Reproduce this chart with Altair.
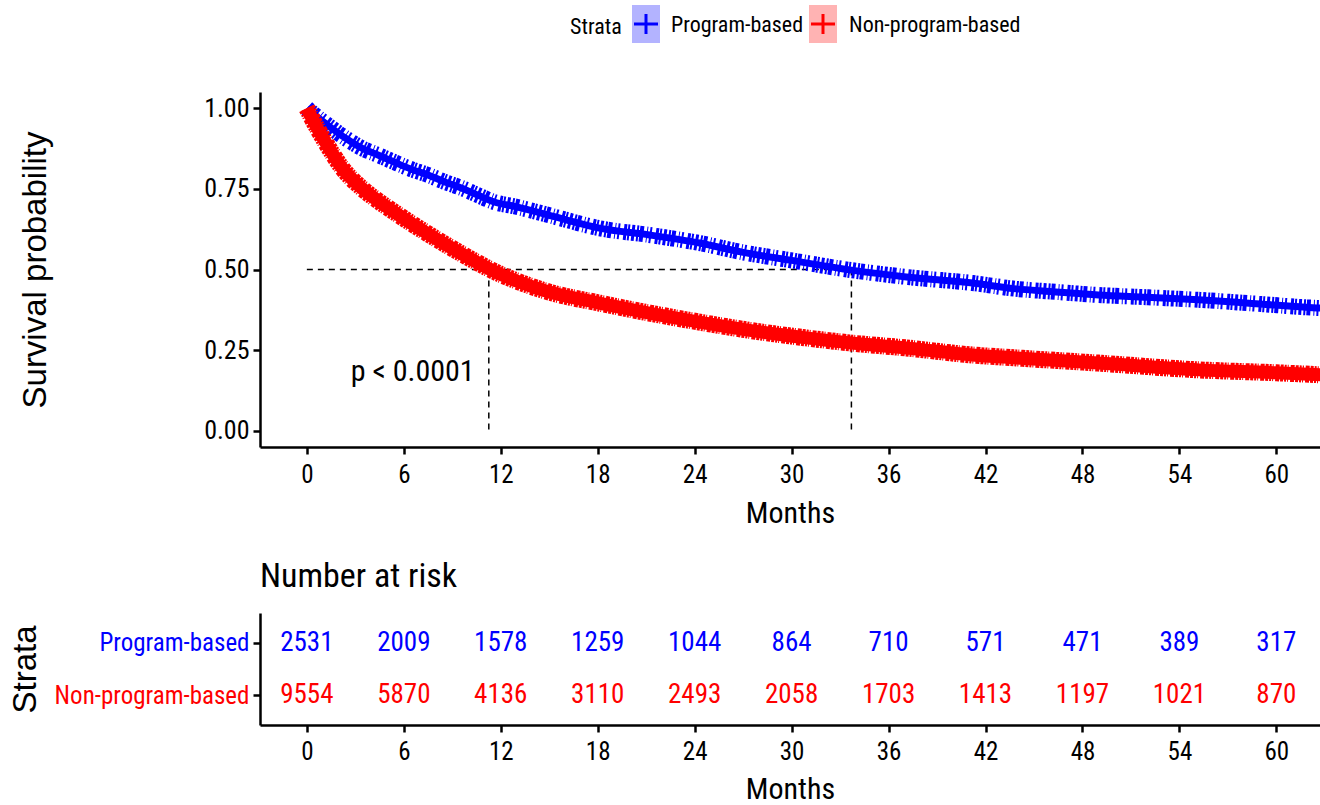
import altair as alt
import pandas as pd

# ---------------- data ----------------
strata = ["Program-based", "Non-program-based"]
colors = ["#0000FF", "#FF0000"]
light = ["#B3B3FF", "#FFB3B3"]

blue_t = [0, 0.7, 1.3, 2.3, 3.4, 4.4, 5.4, 6.5, 7.5, 8.5, 9.6, 10.6, 11.6, 12.9, 14.5,
          16.1, 18.1, 21.2, 24.3, 27.0, 29.9, 33.7, 37.1, 41.2, 43.9, 46.0, 49.0, 52.0,
          55.2, 58.5, 62.5, 63.0]
blue_s = [1.0, 0.97, 0.947, 0.91, 0.876, 0.855, 0.833, 0.81, 0.793, 0.772, 0.752, 0.73,
          0.709, 0.695, 0.675, 0.653, 0.628, 0.607, 0.582, 0.553, 0.529, 0.498, 0.477,
          0.458, 0.44, 0.432, 0.421, 0.414, 0.406, 0.395, 0.381, 0.38]

red_t = [0, 0.3, 0.68, 1.3, 2.16, 3.4, 4.4, 5.44, 6.5, 7.48, 8.5, 9.6, 10.6, 11.6, 12.9,
         15.0, 18.1, 21.2, 24.3, 27.2, 30.9, 33.7, 37.1, 41.2, 43.9, 49.0, 55.2, 60.0, 63.0]
red_s = [1.0, 0.97, 0.935, 0.882, 0.816, 0.752, 0.713, 0.677, 0.642, 0.611, 0.58, 0.548,
         0.52, 0.494, 0.466, 0.43, 0.396, 0.365, 0.337, 0.313, 0.288, 0.272, 0.257, 0.235,
         0.226, 0.21, 0.189, 0.18, 0.173]

median_t = [11.26, 33.7]
median_level = 0.5

risk_times = [0, 6, 12, 18, 24, 30, 36, 42, 48, 54, 60]
risk_program = [2531, 2009, 1578, 1259, 1044, 864, 710, 571, 471, 389, 317]
risk_nonprog = [9554, 5870, 4136, 3110, 2493, 2058, 1703, 1413, 1197, 1021, 870]

p_label = "p < 0.0001"
p_t, p_s = 6.55, 0.183

x_ticks = [0, 6, 12, 18, 24, 30, 36, 42, 48, 54, 60]
y_ticks = [0, 0.25, 0.5, 0.75, 1.0]

# ---------------- style ----------------
NARROW = "Liberation Sans Narrow, Arial Narrow, Roboto Condensed, sans-serif"
REG = "Liberation Sans, Arial, sans-serif"
W = 1060
H_MAIN = 355
H_TAB = 112

xscale = alt.Scale(domain=[-2.9, 62.7], nice=False, zero=False)
yscale = alt.Scale(domain=[-0.05, 1.05], nice=False, zero=False)

common_axis = dict(domainColor="black", domainWidth=2.5, tickColor="black", tickWidth=2.5,
                   tickSize=7, labelFont=NARROW, grid=False,
                   titleColor="black", titleFontWeight="normal")

xaxis_main = alt.Axis(values=x_ticks, title="Months", labelFontSize=25, labelPadding=8,
                      labelColor="black", titleFont=NARROW, titleFontSize=30, titlePadding=11,
                      **common_axis)
yaxis_main = alt.Axis(values=y_ticks, format=".2f", title="Survival probability",
                      labelFontSize=26, labelPadding=4, labelColor="black",
                      titleFont=REG, titleFontSize=33,
                      titleX=-225, titleY=H_MAIN / 2, titleAlign="center",
                      titleBaseline="middle", titleAngle=-90, **common_axis)

X = alt.X("t:Q", scale=xscale, axis=xaxis_main)
Y = alt.Y("s:Q", scale=yscale, axis=yaxis_main)

blue_df = pd.DataFrame({"t": blue_t, "s": blue_s})
red_df = pd.DataFrame({"t": red_t, "s": red_s})

dash_blue = [3, 2, 2, 1, 4, 3, 1, 2, 2, 4, 3, 1, 2, 2]
dash_red = [3, 1, 2, 1, 1, 2, 4, 1]

blue_core = alt.Chart(blue_df).mark_line(color=colors[0], strokeWidth=7,
                                         interpolate="monotone", clip=True).encode(x=X, y=Y)
blue_ticks = alt.Chart(blue_df).mark_line(color=colors[0], strokeWidth=16, strokeDash=dash_blue,
                                          interpolate="monotone", clip=True).encode(x=X, y=Y)
red_core = alt.Chart(red_df).mark_line(color=colors[1], strokeWidth=13,
                                       interpolate="monotone", clip=True).encode(x=X, y=Y)
red_ticks = alt.Chart(red_df).mark_line(color=colors[1], strokeWidth=17, strokeDash=dash_red,
                                        interpolate="monotone", clip=True).encode(x=X, y=Y)

hline_df = pd.DataFrame({"t": [0], "t2": [max(median_t)], "s": [median_level]})
hline = alt.Chart(hline_df).mark_rule(color="black", strokeWidth=1.5, strokeDash=[6, 5]).encode(
    x=X, x2="t2:Q", y=Y)
vline_df = pd.DataFrame({"t": median_t, "s": [median_level] * 2, "s2": [0.0] * 2})
vline = alt.Chart(vline_df).mark_rule(color="black", strokeWidth=1.5, strokeDash=[6, 5]).encode(
    x=X, y=Y, y2="s2:Q")

p_df = pd.DataFrame({"t": [p_t], "s": [p_s], "label": [p_label]})
ptext = alt.Chart(p_df).mark_text(font=NARROW, fontSize=30, color="black", align="center",
                                  baseline="middle").encode(x=X, y=Y, text="label:N")

# ---- manual legend at top ----
one = pd.DataFrame({"k": [0]})
leg = [alt.Chart(one).mark_text(font=NARROW, fontSize=22, color="black", align="left",
                                baseline="middle").encode(
    x=alt.value(310), y=alt.value(-65), text=alt.value("Strata"))]
for name, c, lc, x0, tx in zip(strata, colors, light, [372, 549], [411, 589]):
    leg.append(alt.Chart(one).mark_rect(color=lc).encode(
        x=alt.value(x0), x2=alt.value(x0 + 28), y=alt.value(-87), y2=alt.value(-49)))
    leg.append(alt.Chart(one).mark_rule(color=c, strokeWidth=3).encode(
        x=alt.value(x0 + 2), x2=alt.value(x0 + 26), y=alt.value(-68)))
    leg.append(alt.Chart(one).mark_rule(color=c, strokeWidth=3).encode(
        x=alt.value(x0 + 14), y=alt.value(-78), y2=alt.value(-58)))
    leg.append(alt.Chart(one).mark_text(font=NARROW, fontSize=22, color="black", align="left",
                                        baseline="middle").encode(
        x=alt.value(tx), y=alt.value(-67), text=alt.value(name)))

# invisible anchor fixing the top-left corner of the page
anchor = alt.Chart(one).mark_rule(strokeOpacity=0, strokeWidth=1).encode(
    x=alt.value(-260), x2=alt.value(-258), y=alt.value(-92))

main = alt.layer(anchor, hline, vline, blue_ticks, blue_core, red_ticks, red_core, ptext,
                 *leg).properties(width=W, height=H_MAIN)

# ---------------- risk table ----------------
risk_df = pd.DataFrame({
    "t": risk_times + risk_times,
    "strata": [strata[0]] * len(risk_times) + [strata[1]] * len(risk_times),
    "n": risk_program + risk_nonprog,
})

xaxis_tab = alt.Axis(values=x_ticks, title="Months", labelFontSize=25, labelPadding=7,
                     labelColor="black", titleFont=NARROW, titleFontSize=30, titlePadding=10,
                     **common_axis)
yaxis_tab = alt.Axis(title="Strata", labelFontSize=25, labelPadding=4, labelLimit=400,
                     labelColor={"condition": {"test": "datum.value === 'Program-based'",
                                               "value": colors[0]}, "value": colors[1]},
                     titleFont=REG, titleFontSize=33, titleX=-235, titleY=H_TAB / 2,
                     titleAlign="center", titleBaseline="middle", titleAngle=-90,
                     **common_axis)

table_text = alt.Chart(risk_df).mark_text(font=NARROW, fontSize=27, baseline="middle").encode(
    x=alt.X("t:Q", scale=xscale, axis=xaxis_tab),
    y=alt.Y("strata:N", sort=strata, scale=alt.Scale(type="point", padding=0.57), axis=yaxis_tab),
    color=alt.Color("strata:N", scale=alt.Scale(domain=strata, range=colors), legend=None),
    text="n:Q",
)
table_title = alt.Chart(one).mark_text(font=NARROW, fontSize=34, color="black", align="left",
                                       baseline="middle").encode(
    x=alt.value(0), y=alt.value(-36), text=alt.value("Number at risk"))

table = alt.layer(table_text, table_title).properties(width=W, height=H_TAB)

chart = alt.vconcat(main, table, spacing=166, bounds="flush").properties(
    padding={"left": 0, "top": 0, "right": 0, "bottom": 0},
    autosize=alt.AutoSizeParams(type="pad"),
    background="white",
).configure_view(stroke=None)

chart.save("out.html", embed_options={"renderer": "svg", "actions": False})
